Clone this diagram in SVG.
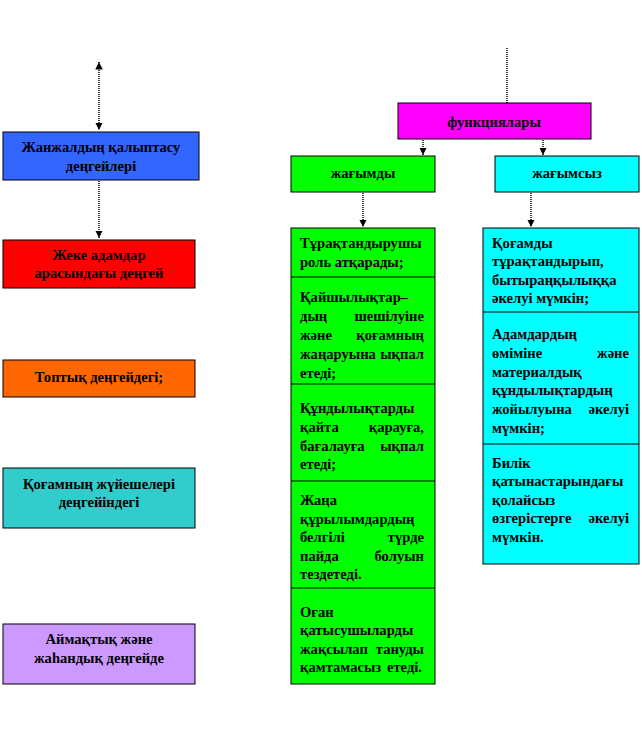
<svg xmlns="http://www.w3.org/2000/svg" width="642" height="732" viewBox="0 0 642 732">
<defs>
<style>
.box{stroke:#000;stroke-width:1}
.t{font-family:"Liberation Serif","Times New Roman",serif;font-weight:bold;font-size:14.6px;fill:#000}
.c{text-anchor:middle}
.e{text-anchor:end}
.ln{fill:none;stroke:#000;stroke-width:1.5;stroke-dasharray:1 1}
</style>
<marker id="ah" viewBox="0 0 10 10" refX="10" refY="5" markerWidth="5" markerHeight="5" orient="auto-start-reverse" markerUnits="strokeWidth">
<path d="M0,0 L10,5 L0,10 Z" fill="#000"/>
</marker>
</defs>
<rect width="642" height="732" fill="#fff"/>

<g id="connectors">
<line class="ln" x1="99" y1="62" x2="99" y2="130" marker-start="url(#ah)" marker-end="url(#ah)"/>
<line class="ln" x1="99" y1="181" x2="99" y2="238" marker-end="url(#ah)"/>
<line class="ln" x1="507" y1="48" x2="507" y2="103"/>
<line class="ln" x1="423" y1="140" x2="423" y2="155" marker-end="url(#ah)"/>
<line class="ln" x1="543" y1="132" x2="543" y2="155" marker-end="url(#ah)"/>
<line class="ln" x1="363" y1="193" x2="363" y2="227" marker-end="url(#ah)"/>
<line class="ln" x1="531" y1="193" x2="531" y2="227" marker-end="url(#ah)"/>
</g>

<g id="levels">
<rect class="box" x="3" y="132" width="196" height="48" fill="#3366FF"/>
<text class="t c" x="101" y="152">Жанжалдың қалыптасу</text>
<text class="t c" x="101" y="171">деңгейлері</text>
</g>
<g id="individual">
<rect class="box" x="3" y="240" width="192" height="48" fill="#FF0000"/>
<text class="t c" x="99" y="260">Жеке адамдар</text>
<text class="t c" x="99" y="278">арасындағы деңгей</text>
</g>
<g id="group">
<rect class="box" x="3" y="360" width="192" height="37" fill="#FF6600"/>
<text class="t c" x="99" y="382">Топтық деңгейдегі;</text>
</g>
<g id="society">
<rect class="box" x="3" y="468" width="192" height="60" fill="#33CCCC"/>
<text class="t c" x="99" y="489">Қоғамның жүйешелері</text>
<text class="t c" x="99" y="507">деңгейіндегі</text>
</g>
<g id="regional">
<rect class="box" x="3" y="624" width="192" height="60" fill="#CC99FF"/>
<text class="t c" x="99" y="644">Аймақтық және</text>
<text class="t c" x="99" y="663">жаһандық деңгейде</text>
</g>

<g id="functions">
<rect class="box" x="398" y="103" width="193" height="36" fill="#FF00FF"/>
<text class="t c" x="494" y="127">функциялары</text>
</g>
<g id="positive">
<rect class="box" x="291" y="156" width="144" height="36" fill="#00FF00"/>
<text class="t c" x="363" y="178">жағымды</text>
</g>
<g id="negative">
<rect class="box" x="495" y="156" width="144" height="36" fill="#00FFFF"/>
<text class="t c" x="567" y="178">жағымсыз</text>
</g>

<g id="positive-list">
<rect class="box" x="291" y="228" width="144" height="456" fill="#00FF00"/>
<line x1="291" y1="277" x2="435" y2="277" stroke="#000"/>
<line x1="291" y1="384" x2="435" y2="384" stroke="#000"/>
<line x1="291" y1="481" x2="435" y2="481" stroke="#000"/>
<line x1="291" y1="588" x2="435" y2="588" stroke="#000"/>
<text class="t" x="300" y="248">Тұрақтандырушы</text>
<text class="t" x="300" y="267">роль атқарады;</text>

<text class="t" x="300" y="302">Қайшылықтар–</text>
<text class="t" x="300" y="321">дың</text><text class="t e" x="424" y="321">шешілуіне</text>
<text class="t" x="300" y="340">және</text><text class="t e" x="424" y="340">қоғамның</text>
<text class="t" x="300" y="359">жаңаруына</text><text class="t e" x="424" y="359">ықпал</text>
<text class="t" x="300" y="378">етеді;</text>

<text class="t" x="300" y="413">Құндылықтарды</text>
<text class="t" x="300" y="432">қайта</text><text class="t e" x="424" y="432">қарауға,</text>
<text class="t" x="300" y="451">бағалауға</text><text class="t e" x="424" y="451">ықпал</text>
<text class="t" x="300" y="469">етеді;</text>

<text class="t" x="300" y="505">Жаңа</text>
<text class="t" x="300" y="524">құрылымдардың</text>
<text class="t" x="300" y="542">белгілі</text><text class="t e" x="424" y="542">түрде</text>
<text class="t" x="300" y="561">пайда</text><text class="t e" x="424" y="561">болуын</text>
<text class="t" x="300" y="579">тездетеді.</text>

<text class="t" x="300" y="617">Оған</text>
<text class="t" x="300" y="635">қатысушыларды</text>
<text class="t" x="300" y="654">жақсылап</text><text class="t e" x="424" y="654">тануды</text>
<text class="t" x="300" y="672">қамтамасыз</text><text class="t e" x="422" y="672">етеді.</text>
</g>

<g id="negative-list">
<rect class="box" x="483" y="228" width="156" height="336" fill="#00FFFF"/>
<line x1="483" y1="312" x2="639" y2="312" stroke="#000"/>
<line x1="483" y1="444" x2="639" y2="444" stroke="#000"/>
<text class="t" x="492" y="248">Қоғамды</text>
<text class="t" x="492" y="266">тұрақтандырып,</text>
<text class="t" x="492" y="285">бытыраңқылыққа</text>
<text class="t" x="492" y="303">әкелуі мүмкін;</text>

<text class="t" x="492" y="339">Адамдардың</text>
<text class="t" x="492" y="358">өміміне</text><text class="t e" x="629" y="358">және</text>
<text class="t" x="492" y="377">материалдық</text>
<text class="t" x="492" y="395">құндылықтардың</text>
<text class="t" x="492" y="414">жойылуына</text><text class="t e" x="629" y="414">әкелуі</text>
<text class="t" x="492" y="433">мүмкін;</text>

<text class="t" x="492" y="468">Билік</text>
<text class="t" x="492" y="486">қатынастарындағы</text>
<text class="t" x="492" y="505">қолайсыз</text>
<text class="t" x="492" y="523">өзгерістерге</text><text class="t e" x="629" y="523">әкелуі</text>
<text class="t" x="492" y="542">мүмкін.</text>
</g>
</svg>
